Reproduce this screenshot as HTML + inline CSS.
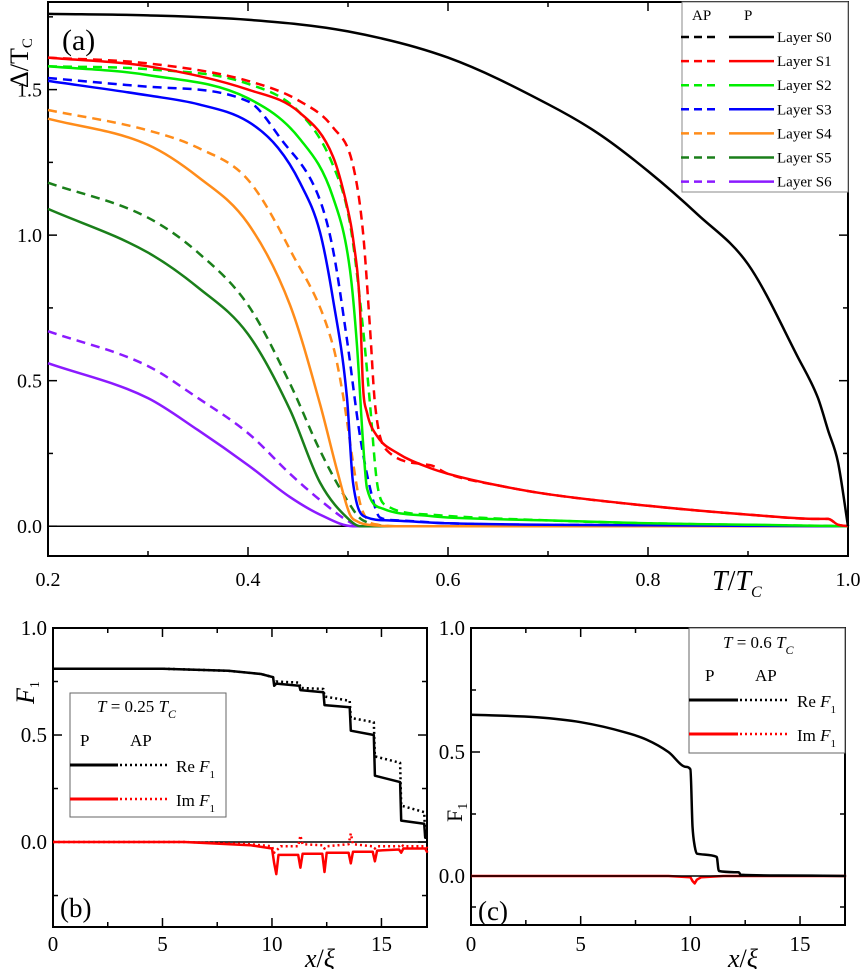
<!DOCTYPE html>
<html><head><meta charset="utf-8"><style>
html,body{margin:0;padding:0;background:#fff;}
svg{display:block;font-family:"Liberation Serif",serif;}
</style></head><body>
<svg id="fig" width="863" height="969" viewBox="0 0 863 969"></svg>
<script>
// ===== Panel (a) data =====
const aTicksX=[0.2,0.4,0.6,0.8,1.0];
const aTickLabelsX=["0.2","0.4","0.6","0.8","1.0"];
const aTicksY=[0.0,0.5,1.0,1.5];
const aTickLabelsY=["0.0","0.5","1.0","1.5"];
const s0T=[0.2,0.3,0.4,0.5,0.6,0.7,0.75,0.8,0.85,0.9,0.95,0.97,0.98,0.99,1.0];
const s0V=[1.76,1.755,1.74,1.70,1.61,1.45,1.35,1.22,1.07,0.90,0.58,0.44,0.33,0.22,0.0];
const s1T=[0.2,0.3,0.4,0.452,0.485,0.499,0.505,0.512,0.515,0.519,0.529,0.55,0.582,0.6,0.65,0.7,0.8,0.9,0.97,0.98,0.99,1.0];
const s1V=[1.61,1.58,1.50,1.42,1.27,1.10,0.99,0.75,0.48,0.39,0.31,0.25,0.20,0.18,0.14,0.11,0.07,0.04,0.025,0.025,0.005,0];
const s1aT=[0.2,0.3,0.4,0.452,0.485,0.505,0.515,0.522,0.527,0.539,0.582,0.6,0.65,0.7,0.8,0.9,0.97,0.98,0.99,1.0];
const s1aV=[1.61,1.59,1.53,1.46,1.37,1.24,1.01,0.68,0.42,0.26,0.21,0.18,0.14,0.11,0.07,0.04,0.025,0.025,0.005,0];
const s2T=[0.2,0.3,0.4,0.452,0.485,0.502,0.509,0.515,0.519,0.535,0.582,0.6,0.7,0.8,0.9,1.0];
const s2V=[1.58,1.55,1.47,1.33,1.13,0.88,0.62,0.29,0.13,0.06,0.035,0.03,0.02,0.01,0.005,0];
const s2aT=[0.2,0.3,0.4,0.452,0.485,0.502,0.515,0.522,0.529,0.539,0.582,0.6,0.7,0.8,1.0];
const s2aV=[1.58,1.57,1.52,1.42,1.24,1.04,0.68,0.42,0.15,0.07,0.04,0.035,0.02,0.01,0];
const s3T=[0.2,0.3,0.35,0.4,0.43,0.452,0.472,0.485,0.499,0.505,0.519,0.54,0.6,0.8,1.0];
const s3V=[1.53,1.48,1.45,1.39,1.30,1.18,1.01,0.78,0.44,0.15,0.03,0.02,0.01,0.003,0];
const s3aT=[0.2,0.3,0.4,0.433,0.472,0.485,0.499,0.512,0.525,0.532,0.55,0.6,0.8,1.0];
const s3aV=[1.54,1.51,1.46,1.33,1.12,0.95,0.64,0.31,0.09,0.03,0.02,0.01,0.003,0];
const s4T=[0.2,0.3,0.35,0.4,0.442,0.472,0.49,0.502,0.51,0.52,0.55,1.0];
const s4V=[1.40,1.31,1.20,1.04,0.76,0.42,0.18,0.04,0.015,0.005,0,0];
const s4aT=[0.2,0.3,0.35,0.4,0.442,0.485,0.495,0.505,0.512,0.52,0.53,0.55,1.0];
const s4aV=[1.43,1.36,1.30,1.19,0.95,0.62,0.45,0.22,0.08,0.02,0.005,0,0];
const s5T=[0.2,0.3,0.35,0.4,0.442,0.472,0.502,0.512,0.55,1.0];
const s5V=[1.09,0.94,0.82,0.66,0.40,0.15,0.02,0,0,0];
const s5aT=[0.2,0.3,0.35,0.4,0.442,0.472,0.499,0.515,0.55,1.0];
const s5aV=[1.18,1.06,0.94,0.76,0.49,0.26,0.09,0.02,0,0];
const s6T=[0.2,0.3,0.35,0.4,0.442,0.472,0.505,0.55,1.0];
const s6V=[0.56,0.44,0.33,0.21,0.10,0.04,0,0,0];
const s6aT=[0.2,0.3,0.35,0.4,0.442,0.472,0.499,0.512,0.55,1.0];
const s6aV=[0.67,0.55,0.44,0.32,0.18,0.09,0.02,0,0,0];
const layerNames=["Layer S0","Layer S1","Layer S2","Layer S3","Layer S4","Layer S5","Layer S6"];
const layerColors=["#000000","#ff0000","#00ee00","#0000ff","#ff8c1a","#1a7f1a","#8b1aff"];

// ===== Panel (b) data =====
const bTicksX=[0,5,10,15];
const bTicksY=[0.0,0.5,1.0];
const bReX=[0,5,8,9.5,10.05,10.1,10.2,11.25,11.3,12.35,12.4,13.55,13.6,14.65,14.7,15.85,15.9,16.95,17.0,17.1];
const bReP=[0.81,0.81,0.80,0.785,0.77,0.73,0.74,0.73,0.71,0.70,0.64,0.63,0.52,0.50,0.31,0.28,0.10,0.085,0.02,0.02];
const bReAP=[0.81,0.81,0.80,0.785,0.77,0.74,0.75,0.745,0.72,0.715,0.68,0.66,0.58,0.56,0.40,0.37,0.17,0.14,0.03,0.03];
const bImX=[0,6,9,10.0,10.1,10.2,10.3,10.4,11.2,11.3,11.4,12.3,12.4,12.5,13.5,13.6,13.7,14.6,14.7,14.8,15.8,15.9,16.0,17.0,17.1];
const bImP=[0,0,-0.015,-0.03,-0.10,-0.15,-0.06,-0.06,-0.06,-0.12,-0.055,-0.055,-0.14,-0.05,-0.05,-0.10,-0.045,-0.045,-0.09,-0.04,-0.035,-0.05,-0.03,-0.03,-0.05];
const bImAP=[0,6,9,10.0,10.1,10.2,10.3,10.4,11.2,11.3,11.4,12.3,12.4,12.5,13.5,13.6,13.7,14.6,14.7,14.8,15.8,15.9,16.0,17.0,17.1];
const bImAPv=[0,0,-0.01,-0.02,-0.05,-0.04,-0.03,-0.02,-0.02,0.03,-0.01,-0.015,-0.03,-0.02,-0.01,0.04,-0.01,-0.02,-0.03,-0.02,-0.02,-0.01,-0.02,-0.02,-0.03];

// ===== Panel (c) data =====
const cTicksX=[0,5,10,15];
const cTicksY=[0.0,0.5,1.0];
const cReX=[0,3,5,7,8,9,9.8,10.0,10.1,10.2,10.3,11.2,11.3,12.2,12.3,14,17.1];
const cReP=[0.65,0.64,0.62,0.58,0.55,0.50,0.44,0.43,0.20,0.12,0.09,0.077,0.02,0.015,0.005,0.002,0];
const cImX=[0,9,10.0,10.1,10.2,10.3,10.5,11.5,17.1];
const cImP=[0,0,-0.005,-0.02,-0.03,-0.015,-0.005,0,0];

const NS="http://www.w3.org/2000/svg";
const svg=document.getElementById('fig');
function mk(tag,attrs,parent){const e=document.createElementNS(NS,tag);for(const k in attrs)e.setAttribute(k,attrs[k]);(parent||svg).appendChild(e);return e;}

function panel(p){
  const g=mk('g',{});
  
  
  p.g=g;
  p.X=v=>p.x0+(v-p.xmin)/(p.xmax-p.xmin)*(p.x1-p.x0);
  p.Y=v=>p.y1-(v-p.ymin)/(p.ymax-p.ymin)*(p.y1-p.y0);
  return p;
}
function frame(p,xt,xminor,yt,yminor,xl,yl,fs,xly){
  const r=mk('rect',{x:p.x0,y:p.y0,width:p.x1-p.x0,height:p.y1-p.y0,fill:'none',stroke:'#000','stroke-width':2},p.g);
  
  
  const ax=mk('g',{stroke:'#000','stroke-width':1.5},p.g);
  
  
  xminor.forEach(v=>{const x=p.X(v);mk('line',{x1:x,x2:x,y1:p.y1,y2:p.y1-5},ax);mk('line',{x1:x,x2:x,y1:p.y0,y2:p.y0+5},ax);});
  xt.forEach(v=>{const x=p.X(v);mk('line',{x1:x,x2:x,y1:p.y1,y2:p.y1-9},ax);mk('line',{x1:x,x2:x,y1:p.y0,y2:p.y0+9},ax);});
  yminor.forEach(v=>{const y=p.Y(v);mk('line',{x1:p.x0,x2:p.x0+5,y1:y,y2:y},ax);mk('line',{x1:p.x1,x2:p.x1-5,y1:y,y2:y},ax);});
  yt.forEach(v=>{const y=p.Y(v);mk('line',{x1:p.x0,x2:p.x0+9,y1:y,y2:y},ax);mk('line',{x1:p.x1,x2:p.x1-9,y1:y,y2:y},ax);});
  xt.forEach((v,i)=>{const t=mk('text',{x:p.X(v),y:xly,'font-size':fs,'text-anchor':'middle'},p.g);t.textContent=xl[i];
    
    });
  yt.forEach((v,i)=>{const t=mk('text',{x:p.x0-6,y:p.Y(v)+7,'font-size':fs,'text-anchor':'end'},p.g);t.textContent=yl[i];
    
    });
}
// monotone cubic path through pixel points
function monoPath(px,py){
  const n=px.length;if(n<3){let d='';px.forEach((x,i)=>d+=(i?'L':'M')+x.toFixed(1)+','+py[i].toFixed(1));return d;}
  const dx=[],s=[];for(let i=0;i<n-1;i++){dx[i]=px[i+1]-px[i];s[i]=dx[i]?(py[i+1]-py[i])/dx[i]:0;}
  const m=[s[0]];for(let i=1;i<n-1;i++){m[i]=(s[i-1]*s[i]<=0)?0:(s[i-1]+s[i])/2;}m[n-1]=s[n-2];
  for(let i=0;i<n-1;i++){if(s[i]===0){m[i]=0;m[i+1]=0;continue;}const a=m[i]/s[i],b=m[i+1]/s[i],h=a*a+b*b;if(h>9){const t=3/Math.sqrt(h);m[i]=t*a*s[i];m[i+1]=t*b*s[i];}}
  let d='M'+px[0].toFixed(1)+','+py[0].toFixed(1);
  for(let i=0;i<n-1;i++){const h=dx[i]/3;d+='C'+(px[i]+h).toFixed(1)+','+(py[i]+m[i]*h).toFixed(1)+' '+(px[i+1]-h).toFixed(1)+','+(py[i+1]-m[i+1]*h).toFixed(1)+' '+px[i+1].toFixed(1)+','+py[i+1].toFixed(1);}
  return d;
}
function series(p,xs,ys,color,dash,name,w,smooth){
  let d='';
  if(smooth){d=monoPath(xs.map(p.X),ys.map(p.Y));}
  else xs.forEach((x,i)=>{d+=(i?'L':'M')+p.X(x).toFixed(1)+','+p.Y(ys[i]).toFixed(1);});
  const e=mk('path',{d:d,fill:'none',stroke:color,'stroke-width':w||2.5,'stroke-dasharray':dash||'none','stroke-linejoin':'round'},p.g);
  
  
}
function txt(parent,x,y,s,fs,extra,name){
  const t=mk('text',Object.assign({x:x,y:y,'font-size':fs},extra||{}),parent);t.innerHTML=s;
  
  
  return t;
}

// ===== Panel A =====
const A=panel({name:'panel-a',x0:48,x1:848,y0:2,y1:556,xmin:0.2,xmax:1.0,ymin:-0.1024,ymax:1.801});
frame(A,aTicksX,[0.3,0.5,0.7,0.9],aTicksY,[0.25,0.75,1.25,1.75],aTickLabelsX,aTickLabelsY,20,586);
const zA=mk('line',{x1:A.X(0.2),x2:A.X(1.0),y1:A.Y(0),y2:A.Y(0),stroke:'#000','stroke-width':1.5},A.g);


const aSolid=[[s6T,s6V],[s5T,s5V],[s4T,s4V],[s3T,s3V],[s2T,s2V],[s1T,s1V],[s0T,s0V]];
const aDash=[[s6aT,s6aV],[s5aT,s5aV],[s4aT,s4aV],[s3aT,s3aV],[s2aT,s2aV],[s1aT,s1aV]];
aDash.forEach((s,i)=>series(A,s[0],s[1],layerColors[6-i],'9,6','layer-s'+(6-i)+'-ap',2.5,true));
aSolid.forEach((s,i)=>series(A,s[0],s[1],layerColors[6-i],null,'layer-s'+(6-i)+'-p',2.5,true));
txt(A.g,62,50,'(a)',30,{},'panel-label-a');
txt(A.g,0,0,'Δ/T<tspan font-size="15" dy="4">C</tspan>',26,{transform:'translate(28,88) rotate(-90)'},'y-axis-title');
txt(A.g,712,590,'<tspan font-style="italic">T</tspan>/<tspan font-style="italic">T</tspan><tspan font-size="16" dy="7" font-style="italic">C</tspan>',28,{},'x-axis-title');
// legend
const lg=mk('g',{},A.g);


const lr=mk('rect',{x:682,y:2,width:166,height:190,fill:'#fff',stroke:'#888','stroke-width':1},lg);


txt(lg,692,20,'AP',15,{},'legend-header-ap');
txt(lg,744,20,'P',15,{},'legend-header-p');
layerNames.forEach((n,i)=>{
  const y=37+i*24.1;
  const l1=mk('line',{x1:681,x2:717,y1:y,y2:y,stroke:layerColors[i],'stroke-width':2.5,'stroke-dasharray':'8,5'},lg);
  
  
  const l2=mk('line',{x1:729,x2:774,y1:y,y2:y,stroke:layerColors[i],'stroke-width':2.5},lg);
  
  
  txt(lg,777,y+5,n,15,{},'legend-entry');
});

// ===== Panel B =====
const B=panel({name:'panel-b',x0:53,x1:427,y0:628,y1:927,xmin:0,xmax:17.08,ymin:-0.397,ymax:1.0});
frame(B,bTicksX,[2.5,7.5,12.5],bTicksY,[-0.25,0.25,0.75],["0","5","10","15"],["0.0","0.5","1.0"],21,951);
const zB=mk('line',{x1:B.x0,x2:B.x1,y1:B.Y(0),y2:B.Y(0),stroke:'#000','stroke-width':1.5},B.g);


series(B,bImAP,bImAPv,'#ff0000','2,3','im-f1-ap');
series(B,bImX,bImP,'#ff0000',null,'im-f1-p');
series(B,bReX,bReAP,'#000','2,3','re-f1-ap');
series(B,bReX,bReP,'#000',null,'re-f1-p');
txt(B.g,0,0,'<tspan font-style="italic">F</tspan><tspan font-size="14" dy="5">1</tspan>',26,{transform:'translate(34,704) rotate(-90)'},'y-axis-title-b');
txt(B.g,305,967,'<tspan font-style="italic">x</tspan>/<tspan font-style="italic">ξ</tspan>',26,{},'x-axis-title-b');
txt(B.g,60,917,'(b)',27,{},'panel-label-b');
const lb=mk('g',{},B.g);


const lbr=mk('rect',{x:70,y:693,width:156,height:124,fill:'#fff',stroke:'#666','stroke-width':1},lb);


txt(lb,97,712,'<tspan font-style="italic">T</tspan> = 0.25 <tspan font-style="italic">T</tspan><tspan font-size="12" dy="6" font-style="italic">C</tspan>',17,{},'legend-title');
txt(lb,80,746,'P',17,{},'legend-header-p');
txt(lb,130,746,'AP',17,{},'legend-header-ap');
[[765,'#000','Re'],[799,'#ff0000','Im']].forEach(r=>{
  const a=mk('line',{x1:70,x2:118,y1:r[0],y2:r[0],stroke:r[1],'stroke-width':3},lb);
  
  
  const b=mk('line',{x1:120,x2:170,y1:r[0],y2:r[0],stroke:r[1],'stroke-width':2.5,'stroke-dasharray':'2,3'},lb);
  
  
  txt(lb,176,r[0]+7,r[2]+' <tspan font-style="italic">F</tspan><tspan font-size="11" dy="6">1</tspan>',17,{},'legend-entry');
});

// ===== Panel C =====
const C=panel({name:'panel-c',x0:471,x1:845,y0:628,y1:925,xmin:0,xmax:17.05,ymin:-0.1976,ymax:1.0});
frame(C,cTicksX,[2.5,7.5,12.5],cTicksY,[-0.125,0.25,0.75],["0","5","10","15"],["0.0","0.5","1.0"],21,951);
series(C,cImX,cImP,'#ff0000',null,'im-f1-p');
const zC=mk('line',{x1:C.x0,x2:C.x1,y1:C.Y(0),y2:C.Y(0),stroke:'#000','stroke-width':1.5},C.g);


series(C,cReX,cReP,'#000',null,'re-f1-p',2.5,true);
txt(C.g,0,0,'F<tspan font-size="14" dy="5">1</tspan>',22,{transform:'translate(462,822) rotate(-90)'},'y-axis-title-c');
txt(C.g,728,967,'<tspan font-style="italic">x</tspan>/<tspan font-style="italic">ξ</tspan>',26,{},'x-axis-title-c');
txt(C.g,478,920,'(c)',27,{},'panel-label-c');
const lc=mk('g',{},C.g);


const lcr=mk('rect',{x:689,y:628,width:156,height:125,fill:'#fff',stroke:'#666','stroke-width':1},lc);


txt(lc,723,648,'<tspan font-style="italic">T</tspan> = 0.6 <tspan font-style="italic">T</tspan><tspan font-size="12" dy="6" font-style="italic">C</tspan>',17,{},'legend-title');
txt(lc,705,681,'P',17,{},'legend-header-p');
txt(lc,755,681,'AP',17,{},'legend-header-ap');
[[700,'#000','Re'],[734,'#ff0000','Im']].forEach(r=>{
  const a=mk('line',{x1:689,x2:738,y1:r[0],y2:r[0],stroke:r[1],'stroke-width':3},lc);
  
  
  const b=mk('line',{x1:740,x2:790,y1:r[0],y2:r[0],stroke:r[1],'stroke-width':2.5,'stroke-dasharray':'2,3'},lc);
  
  
  txt(lc,797,r[0]+7,r[2]+' <tspan font-style="italic">F</tspan><tspan font-size="11" dy="6">1</tspan>',17,{},'legend-entry');
});
</script>
</body></html>
